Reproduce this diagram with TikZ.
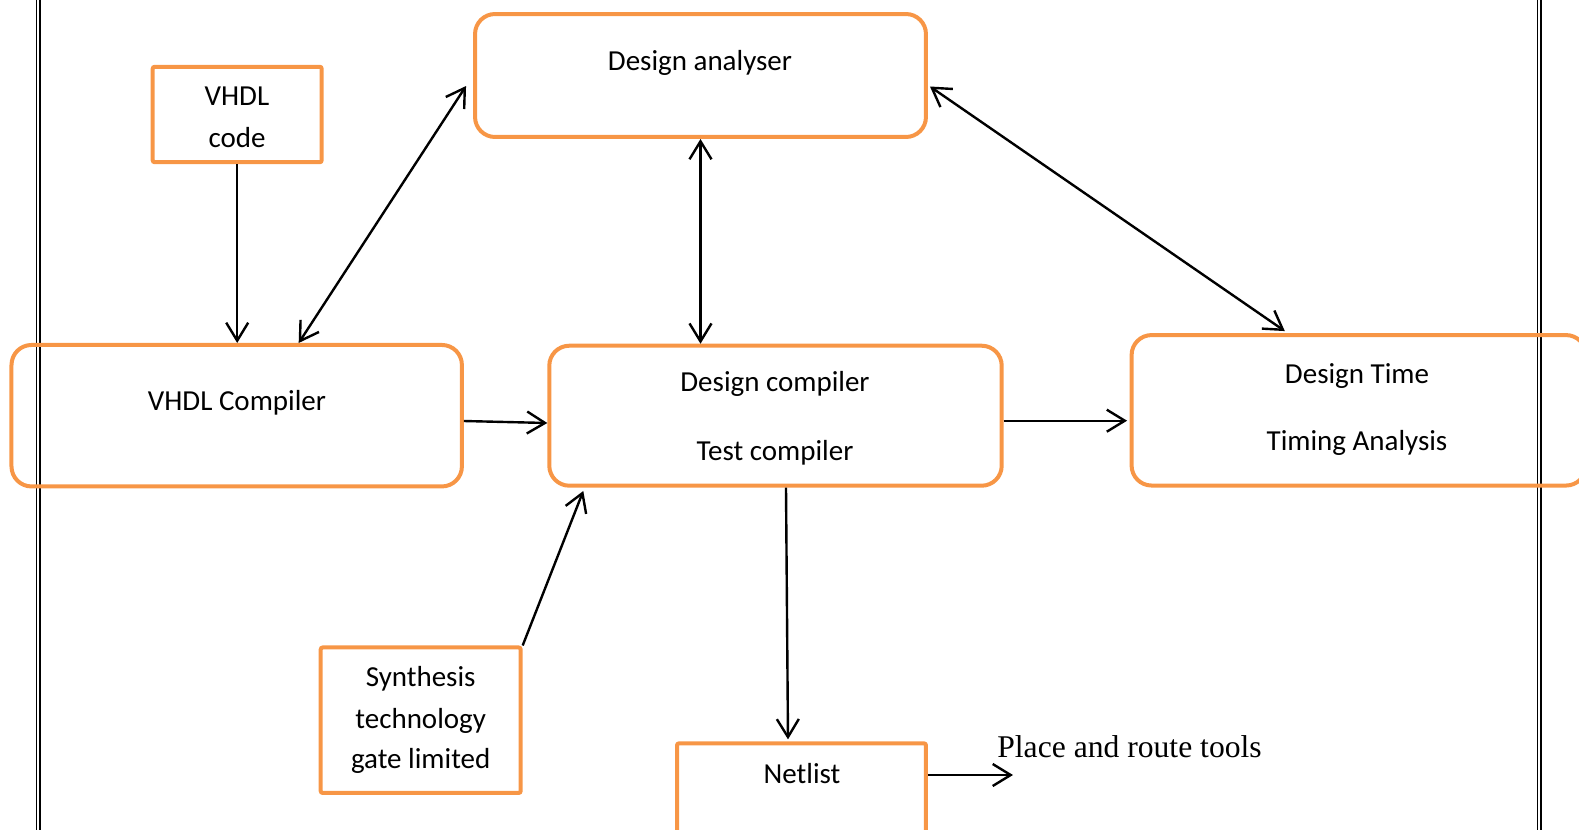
\documentclass[tikz,border=0pt]{standalone}
\usepackage{fontspec}
\setmainfont{Carlito}
\newfontfamily\notefont{Liberation Serif}
\usetikzlibrary{arrows.meta,calc}
\definecolor{boxorange}{HTML}{F79646}
\tikzset{
	flowbox/.style={draw=boxorange, line width=0.08cm, rounded corners=0.4cm, inner sep=0pt},
	srcbox/.style={draw=boxorange, line width=0.08cm, rounded corners=0.04cm, inner sep=0pt},
	boxtext/.style={font=\fontsize{16.5}{20}\selectfont, inner sep=0pt, anchor=base},
	flowarrow/.style={line width=0.048cm, -{Straight Barb[length=0.36cm,width=0.44cm]}},
	bothways/.style={line width=0.048cm, {Straight Barb[length=0.36cm,width=0.44cm]}-{Straight Barb[length=0.36cm,width=0.44cm]}}
}

\begin{document}
\begin{tikzpicture}[x=0.02cm, y=-0.02cm]
			%%%%% START %%%%%
			
			\useasboundingbox (0, 0) rectangle (1579, 829);
			
			% page frame
			\draw[line width=0.026cm] (36.8, -5) -- (36.8, 835);
			\draw[line width=0.036cm] (40, -5) -- (40, 835);
			\draw[line width=0.032cm] (1537.4, -5) -- (1537.4, 835);
			\draw[line width=0.032cm] (1541, -5) -- (1541, 835);
			
			% boxes
			\node[flowbox, minimum width=9.02cm, minimum height=2.46cm] (analyser) at (700.5, 75.5) {};
			\node[srcbox, minimum width=3.38cm, minimum height=1.91cm] (code) at (237.2, 114.5) {};
			\node[flowbox, minimum width=9.01cm, minimum height=2.83cm] (vcomp) at (236.7, 415.7) {};
			\node[flowbox, minimum width=9.05cm, minimum height=2.8cm] (dcomp) at (775.5, 415.7) {};
			\node[flowbox, minimum width=9.09cm, minimum height=3.01cm] (timing) at (1358.8, 410.3) {};
			\node[srcbox, minimum width=4.0cm, minimum height=2.91cm] (synth) at (420.7, 720.2) {};
			\node[srcbox, minimum width=4.98cm, minimum height=2.33cm] (netlist) at (801.5, 801.6) {};
			
			% texts
			\node[boxtext] (analysertxt) at (700, 70) {Design analyser};
			\node[boxtext] (codetxta) at (237, 105) {VHDL};
			\node[boxtext] (codetxtb) at (237, 147) {code};
			\node[boxtext] (vcomptxt) at (237, 410) {VHDL Compiler};
			\node[boxtext] (dcomptxta) at (775, 391.7) {Design compiler};
			\node[boxtext] (dcomptxtb) at (775, 460) {Test compiler};
			\node[boxtext] (timingtxta) at (1357, 383.3) {Design Time};
			\node[boxtext] (timingtxtb) at (1357, 450) {Timing Analysis};
			\node[boxtext] (synthtxta) at (420.7, 686.7) {Synthesis};
			\node[boxtext] (synthtxtb) at (420.7, 728.5) {technology};
			\node[boxtext] (synthtxtc) at (420.7, 768.3) {gate limited};
			\node[boxtext] (netlisttxt) at (802, 783.3) {Netlist};
			\node[font=\notefont\fontsize{18}{22}\selectfont, inner sep=0pt, anchor=base west] (place) at (997, 757) {Place and route tools};
			
			% connectors
			\draw[flowarrow] (code.south) -- (code.south |- vcomp.north);
			\draw[bothways] ([xshift=1.24cm]vcomp.north) -- ([xshift=-0.14cm, yshift=-0.21cm]analyser.west);
			\draw[bothways] (analyser.south) -- (analyser.south |- dcomp.north);
			\draw[bothways] ([xshift=0.04cm, yshift=-0.22cm]analyser.east) -- ([xshift=-1.48cm, yshift=0.04cm]timing.north);
			\draw[flowarrow] ([yshift=-0.106cm]vcomp.east) -- ([yshift=-0.146cm]dcomp.west);
			\draw[flowarrow] ([yshift=-0.1cm]dcomp.east) -- ([xshift=-0.05cm, yshift=-0.1cm]dcomp.east -| timing.west);
			\draw[flowarrow] (synth.north east) -- ([xshift=0.72cm, yshift=-0.066cm]dcomp.south west);
			\draw[flowarrow] ([xshift=0.21cm]dcomp.south) -- ([xshift=-0.27cm, yshift=0.04cm]netlist.north);
			\coordinate (placeend) at (1013, 775);
			\draw[flowarrow] (netlist.east |- placeend) -- (placeend);
			
			%%%%% END %%%%%
\end{tikzpicture}
\end{document}
